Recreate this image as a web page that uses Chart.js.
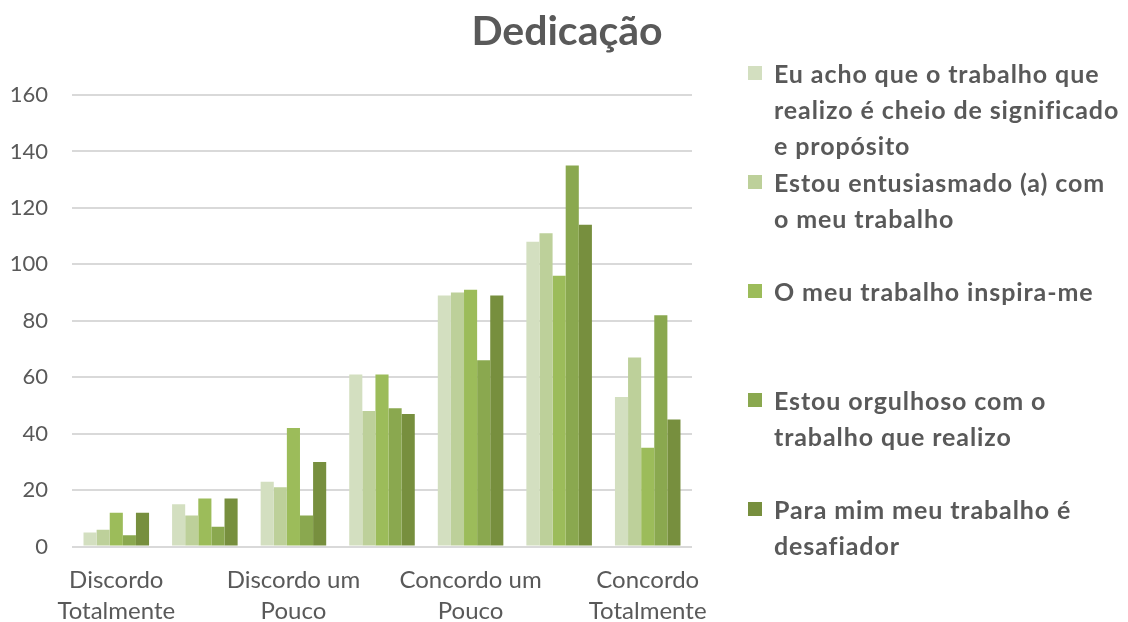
<!DOCTYPE html>
<html>
<head>
<meta charset="utf-8">
<script src="https://cdn.jsdelivr.net/npm/chart.js@4/dist/chart.umd.min.js"></script>
<style>
  body { margin: 0; background: #fff; }
  #wrap { position: relative; width: 1128px; height: 622px; font-family: Lato, "Open Sans", sans-serif; color: #595959; }
  #title { position: absolute; left: 0; width: 1134px; top: 5px; text-align: center; font-size: 41px; font-weight: bold; }
  #legend { position: absolute; left: 748px; top: 55px; width: 380px; }
  .item { display: flex; height: 109px; align-items: flex-start; }
  .box { width: 14px; height: 14px; margin: 11px 12px 0 0; flex: none; }
  .txt { font-size: 25px; font-weight: bold; line-height: 36px; letter-spacing: 0.9px; width: 348px; }
</style>
</head>
<body>
<div id="wrap">
  <canvas id="dedChart" width="1128" height="622"></canvas>
  <div id="title">Dedicação</div>
  <div id="legend"></div>
</div>
<script>
// categories (only every other one is labelled on the axis)
var categories = ["Discordo Totalmente", "Discordo", "Discordo um Pouco", "Nem Concordo Nem Discordo",
                  "Concordo um Pouco", "Concordo", "Concordo Totalmente"];

var seriesNames = [
  "Eu acho que o trabalho que realizo é cheio de significado e propósito",
  "Estou entusiasmado (a) com o meu trabalho",
  "O meu trabalho inspira-me",
  "Estou orgulhoso com o trabalho que realizo",
  "Para mim meu trabalho é desafiador"
];

var significado = [5, 15, 23, 61, 89, 108, 53];
var entusiasmado = [6, 11, 21, 48, 90, 111, 67];
var inspira = [12, 17, 42, 61, 91, 96, 35];
var orgulhoso = [4, 7, 11, 49, 66, 135, 82];
var desafiador = [12, 17, 30, 47, 89, 114, 45];

var yTicks = [0, 20, 40, 60, 80, 100, 120, 140, 160];

var colors = ["#d3dfc0", "#bdd09a", "#9cbc5a", "#8aa84f", "#778f3e"];

document.addEventListener("DOMContentLoaded", function () {
  start();
});

function start() {
  var values = [significado, entusiasmado, inspira, orgulhoso, desafiador];
  var datasets = [];
  for (var i = 0; i < values.length; i++) {
    datasets.push({
      label: seriesNames[i],
      data: values[i],
      backgroundColor: colors[i],
      borderWidth: 0,
      categoryPercentage: 0.74,
      barPercentage: 1.0
    });
  }
  renderLegend();
  renderChart(datasets);
}

function renderLegend() {
  var legend = document.getElementById("legend");
  for (var i = 0; i < seriesNames.length; i++) {
    var item = document.createElement("div");
    item.className = "item";
    var box = document.createElement("div");
    box.className = "box";
    box.style.background = colors[i];
    var txt = document.createElement("div");
    txt.className = "txt";
    txt.textContent = seriesNames[i];
    item.appendChild(box);
    item.appendChild(txt);
    legend.appendChild(item);
  }
}

function renderChart(datasets) {
  var ctx = document.getElementById("dedChart").getContext("2d");
  new Chart(ctx, {
    type: "bar",
    data: { labels: categories, datasets: datasets },
    options: {
      responsive: false,
      animation: false,
      layout: { padding: { left: 10, right: 436, top: 95, bottom: -23 } },
      plugins: {
        legend: { display: false },
        title: { display: false },
        tooltip: { enabled: false }
      },
      scales: {
        x: {
          grid: { display: false, drawTicks: false },
          border: { display: false },
          afterFit: function (axis) {
            axis.paddingLeft = 0;
            axis.paddingRight = 0;
          },
          ticks: {
            autoSkip: false,
            maxRotation: 0,
            padding: 18,
            color: "#595959",
            font: { family: "Lato", size: 24, lineHeight: 1.3 },
            callback: function (value, index) {
              if (index % 2 !== 0) return "";
              var words = categories[index].split(" ");
              var last = words.pop();
              return [words.join(" "), last];
            }
          }
        },
        y: {
          min: 0,
          max: 160,
          afterBuildTicks: function (axis) {
            axis.ticks = yTicks.map(function (v) { return { value: v }; });
          },
          afterFit: function (axis) {
            axis.width = 62;
          },
          grid: { color: "#d9d9d9", lineWidth: 2, drawTicks: false },
          border: { display: false },
          ticks: {
            padding: 24,
            color: "#595959",
            font: { family: "Lato", size: 22 }
          }
        }
      }
    }
  });
}
</script>
</body>
</html>
